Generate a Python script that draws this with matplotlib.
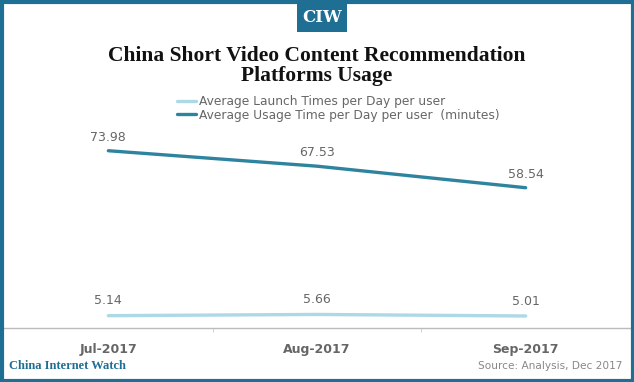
import matplotlib
matplotlib.use("Agg")
import matplotlib.pyplot as plt
from matplotlib.patches import Rectangle

months = ["Jul-2017", "Aug-2017", "Sep-2017"]
launch_times = [5.14, 5.66, 5.01]
usage_minutes = [73.98, 67.53, 58.54]
series_names = ["Average Launch Times per Day per user",
                "Average Usage Time per Day per user  (minutes)"]

W, H = 634, 382
fig = plt.figure(figsize=(W / 100, H / 100), dpi=100)
fig.patch.set_facecolor("white")

border = "#1F6F95"
dark = "#2E849E"
light = "#ADD8E6"
gray = "#666666"

# axes: x from 4 to 630 px, y bottom at 328 px, top at 136 px
ax = fig.add_axes([4 / W, (H - 328) / H, 626 / W, (328 - 136.3) / H])
x = list(range(len(months)))
l1, = ax.plot(x, launch_times, color=light, lw=2.4, solid_capstyle="round")
l2, = ax.plot(x, usage_minutes, color=dark, lw=2.4, solid_capstyle="round")
ax.set_xlim(-0.5, 2.5)
ax.set_ylim(0, 80)
ax.set_yticks([])
ax.set_xticks(x)
ax.set_xticklabels(months, fontsize=9, color=gray, fontweight="bold", family="DejaVu Sans")
ax.set_xticks([0.5, 1.5], minor=True)
ax.tick_params(axis="x", which="major", length=0, pad=11)
ax.tick_params(axis="x", which="minor", length=3, color="#cccccc")
for s in ["top", "left", "right"]:
    ax.spines[s].set_visible(False)
ax.spines["bottom"].set_color("#bbbbbb")
ax.spines["bottom"].set_linewidth(1)

for xi, v in zip(x, usage_minutes):
    ax.annotate(f"{v:.2f}", (xi, v), xytext=(0, 5), textcoords="offset points",
                ha="center", va="bottom", fontsize=9, color=gray)
for xi, v in zip(x, launch_times):
    ax.annotate(f"{v:.2f}", (xi, v), xytext=(0, 6), textcoords="offset points",
                ha="center", va="bottom", fontsize=9, color=gray)

leg = fig.legend([l1, l2], series_names, loc="upper left",
                 bbox_to_anchor=(172 / W, 1 - 90 / H), frameon=False,
                 fontsize=8.8, handlelength=1.6, handletextpad=0.2,
                 labelspacing=0.05, borderaxespad=0)
for t in leg.get_texts():
    t.set_color(gray)

fig.text(0.5, 1 - 66 / H, "China Short Video Content Recommendation\nPlatforms Usage",
         ha="center", va="center", fontsize=15.5, fontweight="bold",
         family="Liberation Serif", linespacing=1.0, color="#111111")

# frame
fig.add_artist(Rectangle((1.5 / W, 1.5 / H), (W - 3) / W, (H - 3) / H,
                         transform=fig.transFigure, fill=False,
                         edgecolor=border, lw=3))
fig.add_artist(Rectangle((0, (H - 4) / H), 1, 4 / H, transform=fig.transFigure,
                         color=border, lw=0))
# CIW badge
fig.add_artist(Rectangle((297 / W, 1 - 32 / H), 50 / W, 28 / H,
                         transform=fig.transFigure, color=border, lw=0))
fig.text(322 / W, 1 - 18 / H, "CIW", ha="center", va="center", color="white",
         fontsize=12, fontweight="bold", family="DejaVu Serif")

fig.text(9 / W, 1 - 366 / H, "China Internet Watch", ha="left", va="center",
         color=border, fontsize=9, fontweight="bold", family="Liberation Serif")
fig.text(622 / W, 1 - 366 / H, "Source: Analysis, Dec 2017", ha="right",
         va="center", color="#888888", fontsize=7.6)

fig.savefig("out.png", dpi=100)
